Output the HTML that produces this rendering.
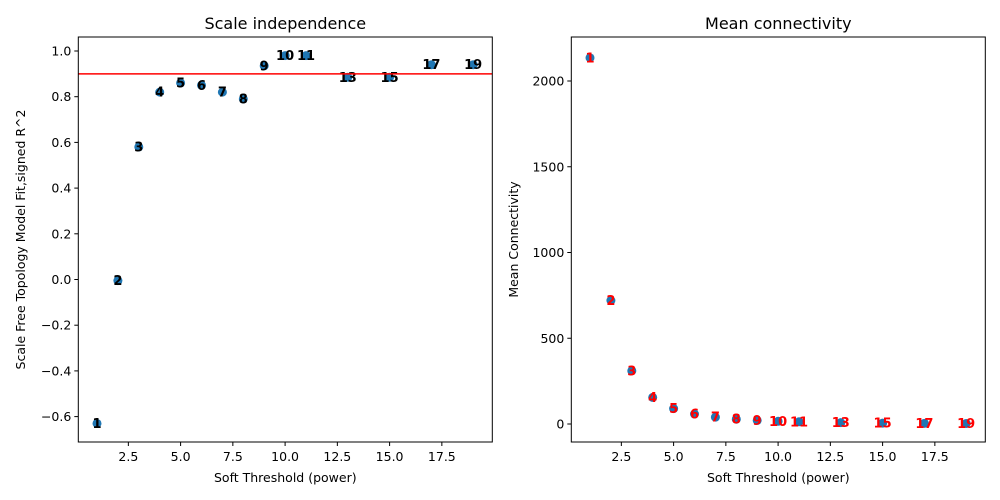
<!DOCTYPE html>
<html><head><meta charset="utf-8"><style>
body{margin:0;background:#fff;}
svg{display:block;font-family:"DejaVu Sans","Liberation Sans",sans-serif;}
</style></head><body>
<svg id="c" width="1000" height="500" xmlns="http://www.w3.org/2000/svg"></svg>
<script>
const powers=[1,2,3,4,5,6,7,8,9,10,11,13,15,17,19];
const sftR2=[-0.63,-0.005,0.58,0.82,0.86,0.85,0.82,0.79,0.935,0.98,0.98,0.885,0.885,0.94,0.94];
const meanK=[2135,720,310,155,90,58,40,28,21,16,13,8,5,4,3];
const xTicks=[2.5,5.0,7.5,10.0,12.5,15.0,17.5];
const yTicksL=[-0.6,-0.4,-0.2,0.0,0.2,0.4,0.6,0.8,1.0];
const yTicksR=[0,500,1000,1500,2000];
const cutoff=0.9;
const NS="http://www.w3.org/2000/svg";
const svg=document.getElementById('c');
function mk(t,a,p){const e=document.createElementNS(NS,t);for(const k in a)e.setAttribute(k,a[k]);(p||svg).appendChild(e);return e;}
function panel(o){
  const g=mk('g',{});
  
  
  const X=v=>o.x0+(v-1)*20.9+18.7;
  const Y=v=>o.yb-(v-o.ymin)*o.ys;
  for(let i=0;i<powers.length;i++){
    const c=mk('circle',{cx:X(powers[i]),cy:Y(o.vals[i]),r:4.5,fill:'#1f77b4'},g);
    
    
  }
  for(let i=0;i<powers.length;i++){
    const t=mk('text',{x:X(powers[i]),y:Y(o.vals[i])+4.5,'text-anchor':'middle','font-size':13,'font-weight':'bold',fill:o.lc},g);
    t.textContent=powers[i];
    
    
  }
  if(o.cut!==undefined){
    const l=mk('line',{x1:o.x0,x2:o.x0+414,y1:Y(o.cut),y2:Y(o.cut),stroke:'red','stroke-width':1.5},g);
    
    
  }
  const r=mk('rect',{x:o.x0,y:37,width:414,height:405,fill:'none',stroke:'#000','stroke-width':1},g);
  
  
  for(const v of xTicks){
    mk('line',{x1:X(v),x2:X(v),y1:442,y2:446,stroke:'#000'},g);
    const t=mk('text',{x:X(v),y:461,'text-anchor':'middle','font-size':12.5,fill:'#000'},g);
    t.textContent=v.toFixed(1);
    
    
  }
  for(const v of o.yt){
    mk('line',{x1:o.x0-4,x2:o.x0,y1:Y(v),y2:Y(v),stroke:'#000'},g);
    const t=mk('text',{x:o.x0-7,y:Y(v)+4.5,'text-anchor':'end','font-size':12.5,fill:'#000'},g);
    t.textContent=o.fmt(v);
    
    
  }
  const xt=mk('text',{x:o.x0+207,y:482,'text-anchor':'middle','font-size':12.5},g);
  xt.textContent='Soft Threshold (power)';
  
  
  const yt=mk('text',{x:0,y:0,'text-anchor':'middle','font-size':12.5,transform:`translate(${o.ytx},239.5) rotate(-90)`},g);
  yt.textContent=o.ylab;
  
  
  const tt=mk('text',{x:o.x0+207,y:29,'text-anchor':'middle','font-size':16},g);
  tt.textContent=o.title;
  
  
}
panel({name:'scale-independence-panel',x0:78.3,vals:sftR2,ymin:-0.6,yb:416.6,ys:228.5,yt:yTicksL,fmt:v=>v.toFixed(1).replace('-','\u2212'),lc:'#000',cut:cutoff,ylab:'Scale Free Topology Model Fit,signed R^2',ytx:25,title:'Scale independence'});
panel({name:'mean-connectivity-panel',x0:571.3,vals:meanK,ymin:0,yb:424,ys:0.1715,yt:yTicksR,fmt:v=>String(v),lc:'red',ylab:'Mean Connectivity',ytx:518,title:'Mean connectivity'});
</script>
</body></html>
